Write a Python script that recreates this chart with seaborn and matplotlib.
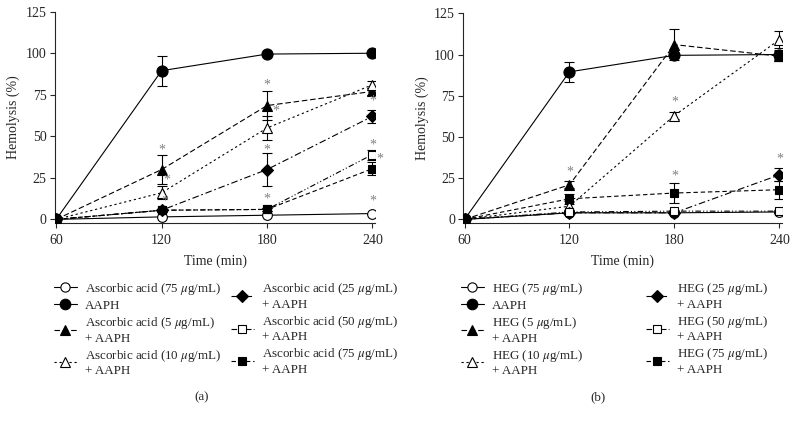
import matplotlib
matplotlib.use("Agg")
import matplotlib.pyplot as plt
from matplotlib.lines import Line2D
import numpy as np
import pandas as pd
import seaborn as sns

# time points (min)
time = [60, 120, 180, 240]

# panel (a): ascorbic acid
aa75_only = [0, 1.5, 2.5, 3.5]
aaph_a = [0, 89.5, 99.5, 100]
aa5 = [0, 30, 68.5, 77]
aa10 = [0, 16, 55, 81]
aa25 = [0, 5.5, 30, 62]
aa50 = [0, 5.5, 6, 39]
aa75 = [0, 5.5, 6, 30.5]

aa75_only_err = [0, 0, 0, 0]
aaph_a_err = [0, 9, 1, 1]
aa5_err = [0, 9, 8.5, 2]
aa10_err = [0, 4, 7.5, 2]
aa25_err = [0, 1, 10, 4]
aa50_err = [0, 1, 1, 3]
aa75_err = [0, 1, 1, 4]

# panel (b): HEG
heg75_only = [0, 4, 4, 4.5]
aaph_b = [0, 89.5, 99.5, 100]
heg5 = [0, 21, 106, 99]
heg10 = [0, 8, 63, 109]
heg25 = [0, 4, 4, 27]
heg50 = [0, 4.5, 5, 5]
heg75 = [0, 12.5, 16, 18]

heg75_only_err = [0, 0, 0, 0]
aaph_b_err = [0, 6, 1, 3]
heg5_err = [0, 2, 9.5, 3]
heg10_err = [0, 3, 2, 5]
heg25_err = [0, 1, 1, 4]
heg50_err = [0, 1, 1, 1]
heg75_err = [0, 3, 6, 5.5]

# significance marks (x, y)
stars_a = [(120, 41.5), (123, 23.5), (122, 11), (180, 81), (185, 65), (180, 42),
           (180, 12.5), (240, 71), (240, 45), (244.5, 36.5), (240, 11)]
stars_b = [(120, 28.5), (180, 71), (180, 26.5), (240, 36.5)]

labels_a = ["Ascorbic acid (75 $\\mu$g/mL)", "AAPH",
            "Ascorbic acid (5 $\\mu$g/mL)\n+ AAPH",
            "Ascorbic acid (10 $\\mu$g/mL)\n+ AAPH",
            "Ascorbic acid (25 $\\mu$g/mL)\n+ AAPH",
            "Ascorbic acid (50 $\\mu$g/mL)\n+ AAPH",
            "Ascorbic acid (75 $\\mu$g/mL)\n+ AAPH"]
labels_b = ["HEG (75 $\\mu$g/mL)", "AAPH",
            "HEG (5 $\\mu$g/mL)\n+ AAPH",
            "HEG (10 $\\mu$g/mL)\n+ AAPH",
            "HEG (25 $\\mu$g/mL)\n+ AAPH",
            "HEG (50 $\\mu$g/mL)\n+ AAPH",
            "HEG (75 $\\mu$g/mL)\n+ AAPH"]

# marker / face / line style per series (same order in both panels)
STYLES = [
    dict(marker="o", mfc="white", ms=7, ls="-"),
    dict(marker="o", mfc="black", ms=8, ls="-"),
    dict(marker="^", mfc="black", ms=7, ls=(0, (5, 2.5))),
    dict(marker="^", mfc="white", ms=7, ls=(0, (2, 2.5))),
    dict(marker="D", mfc="black", ms=6.5, ls=(0, (6, 2.5, 1.5, 2.5))),
    dict(marker="s", mfc="white", ms=6, ls=(0, (5, 2, 1, 2, 1, 2))),
    dict(marker="s", mfc="black", ms=6, ls=(0, (4, 2.5))),
]

sns.set_style("ticks")
plt.rcParams["font.family"] = ["Liberation Serif", "DejaVu Serif"]
plt.rcParams["mathtext.fontset"] = "stix"

fig = plt.figure(figsize=(7.98, 4.23), dpi=100)
W, H = 798, 423


def px_axes(left, top, right, bottom):
    return fig.add_axes([left / W, 1 - bottom / H, (right - left) / W, (bottom - top) / H])


def draw_panel(ax, series, errors, stars):
    for vals, errs, st in zip(series, errors, STYLES):
        df = pd.DataFrame({"t": time, "v": vals})
        ax.errorbar(time, vals, yerr=errs, fmt="none", ecolor="black",
                    elinewidth=0.8, capsize=3.5, capthick=0.8, zorder=2)
        sns.lineplot(data=df, x="t", y="v", ax=ax, color="black", lw=0.8,
                     linestyle=st["ls"], marker=st["marker"], markersize=st["ms"],
                     markerfacecolor=st["mfc"], markeredgecolor="black",
                     markeredgewidth=0.8, zorder=3)
    for sx, sy in stars:
        ax.text(sx, sy, "*", ha="center", va="center", fontsize=10, color="#808080")
    ax.set_xlim(59.3, 241.5)
    ax.set_ylim(-2, 125)
    ax.set_xticks(time)
    ax.set_yticks([0, 25, 50, 75, 100, 125])
    ax.set_xlabel("Time (min)", fontsize=10, labelpad=5.5)
    ax.set_ylabel("Hemolysis (%)", fontsize=10, labelpad=4)
    ax.tick_params(labelsize=10, length=3.5, width=0.8, pad=2.5)
    ax.tick_params(axis="x", pad=4.5)
    for s in ["left", "bottom"]:
        ax.spines[s].set_linewidth(0.8)
    sns.despine(ax=ax)
    ax.spines["left"].set_bounds(0, 125)


def handles_for(idx):
    hs = []
    for i in idx:
        st = STYLES[i]
        hs.append(Line2D([], [], color="black", lw=0.8, linestyle=st["ls"],
                         marker=st["marker"], markersize=st["ms"] * 0.95,
                         markerfacecolor=st["mfc"], markeredgecolor="black",
                         markeredgewidth=0.8))
    return hs


def add_legends(labels, x1, x2, top):
    common = dict(frameon=False, loc="upper left", fontsize=9.4, borderpad=0,
                  borderaxespad=0, handlelength=1.75, handletextpad=0.65,
                  labelspacing=0.22, bbox_transform=fig.transFigure)
    leg1 = fig.legend(handles_for([0, 1, 2, 3]), labels[:4],
                      bbox_to_anchor=(x1 / W, 1 - top / H), **common)
    fig.legend(handles_for([4, 5, 6]), labels[4:],
               bbox_to_anchor=(x2 / W, 1 - top / H), **common)
    return leg1


ax_a = px_axes(55, 11.7, 375, 222.7)
draw_panel(ax_a, [aa75_only, aaph_a, aa5, aa10, aa25, aa50, aa75],
           [aa75_only_err, aaph_a_err, aa5_err, aa10_err, aa25_err, aa50_err, aa75_err],
           stars_a)

ax_b = px_axes(463.3, 13.3, 782, 222.7)
draw_panel(ax_b, [heg75_only, aaph_b, heg5, heg10, heg25, heg50, heg75],
           [heg75_only_err, aaph_b_err, heg5_err, heg10_err, heg25_err, heg50_err, heg75_err],
           stars_b)

add_legends(labels_a, 54, 231, 281)
add_legends(labels_b, 461, 646, 281)

fig.text(202 / W, 1 - 397 / H, "(a)", ha="center", va="center", fontsize=9.4)
fig.text(598 / W, 1 - 397 / H, "(b)", ha="center", va="center", fontsize=9.4)

fig.savefig("out.png", dpi=100)
